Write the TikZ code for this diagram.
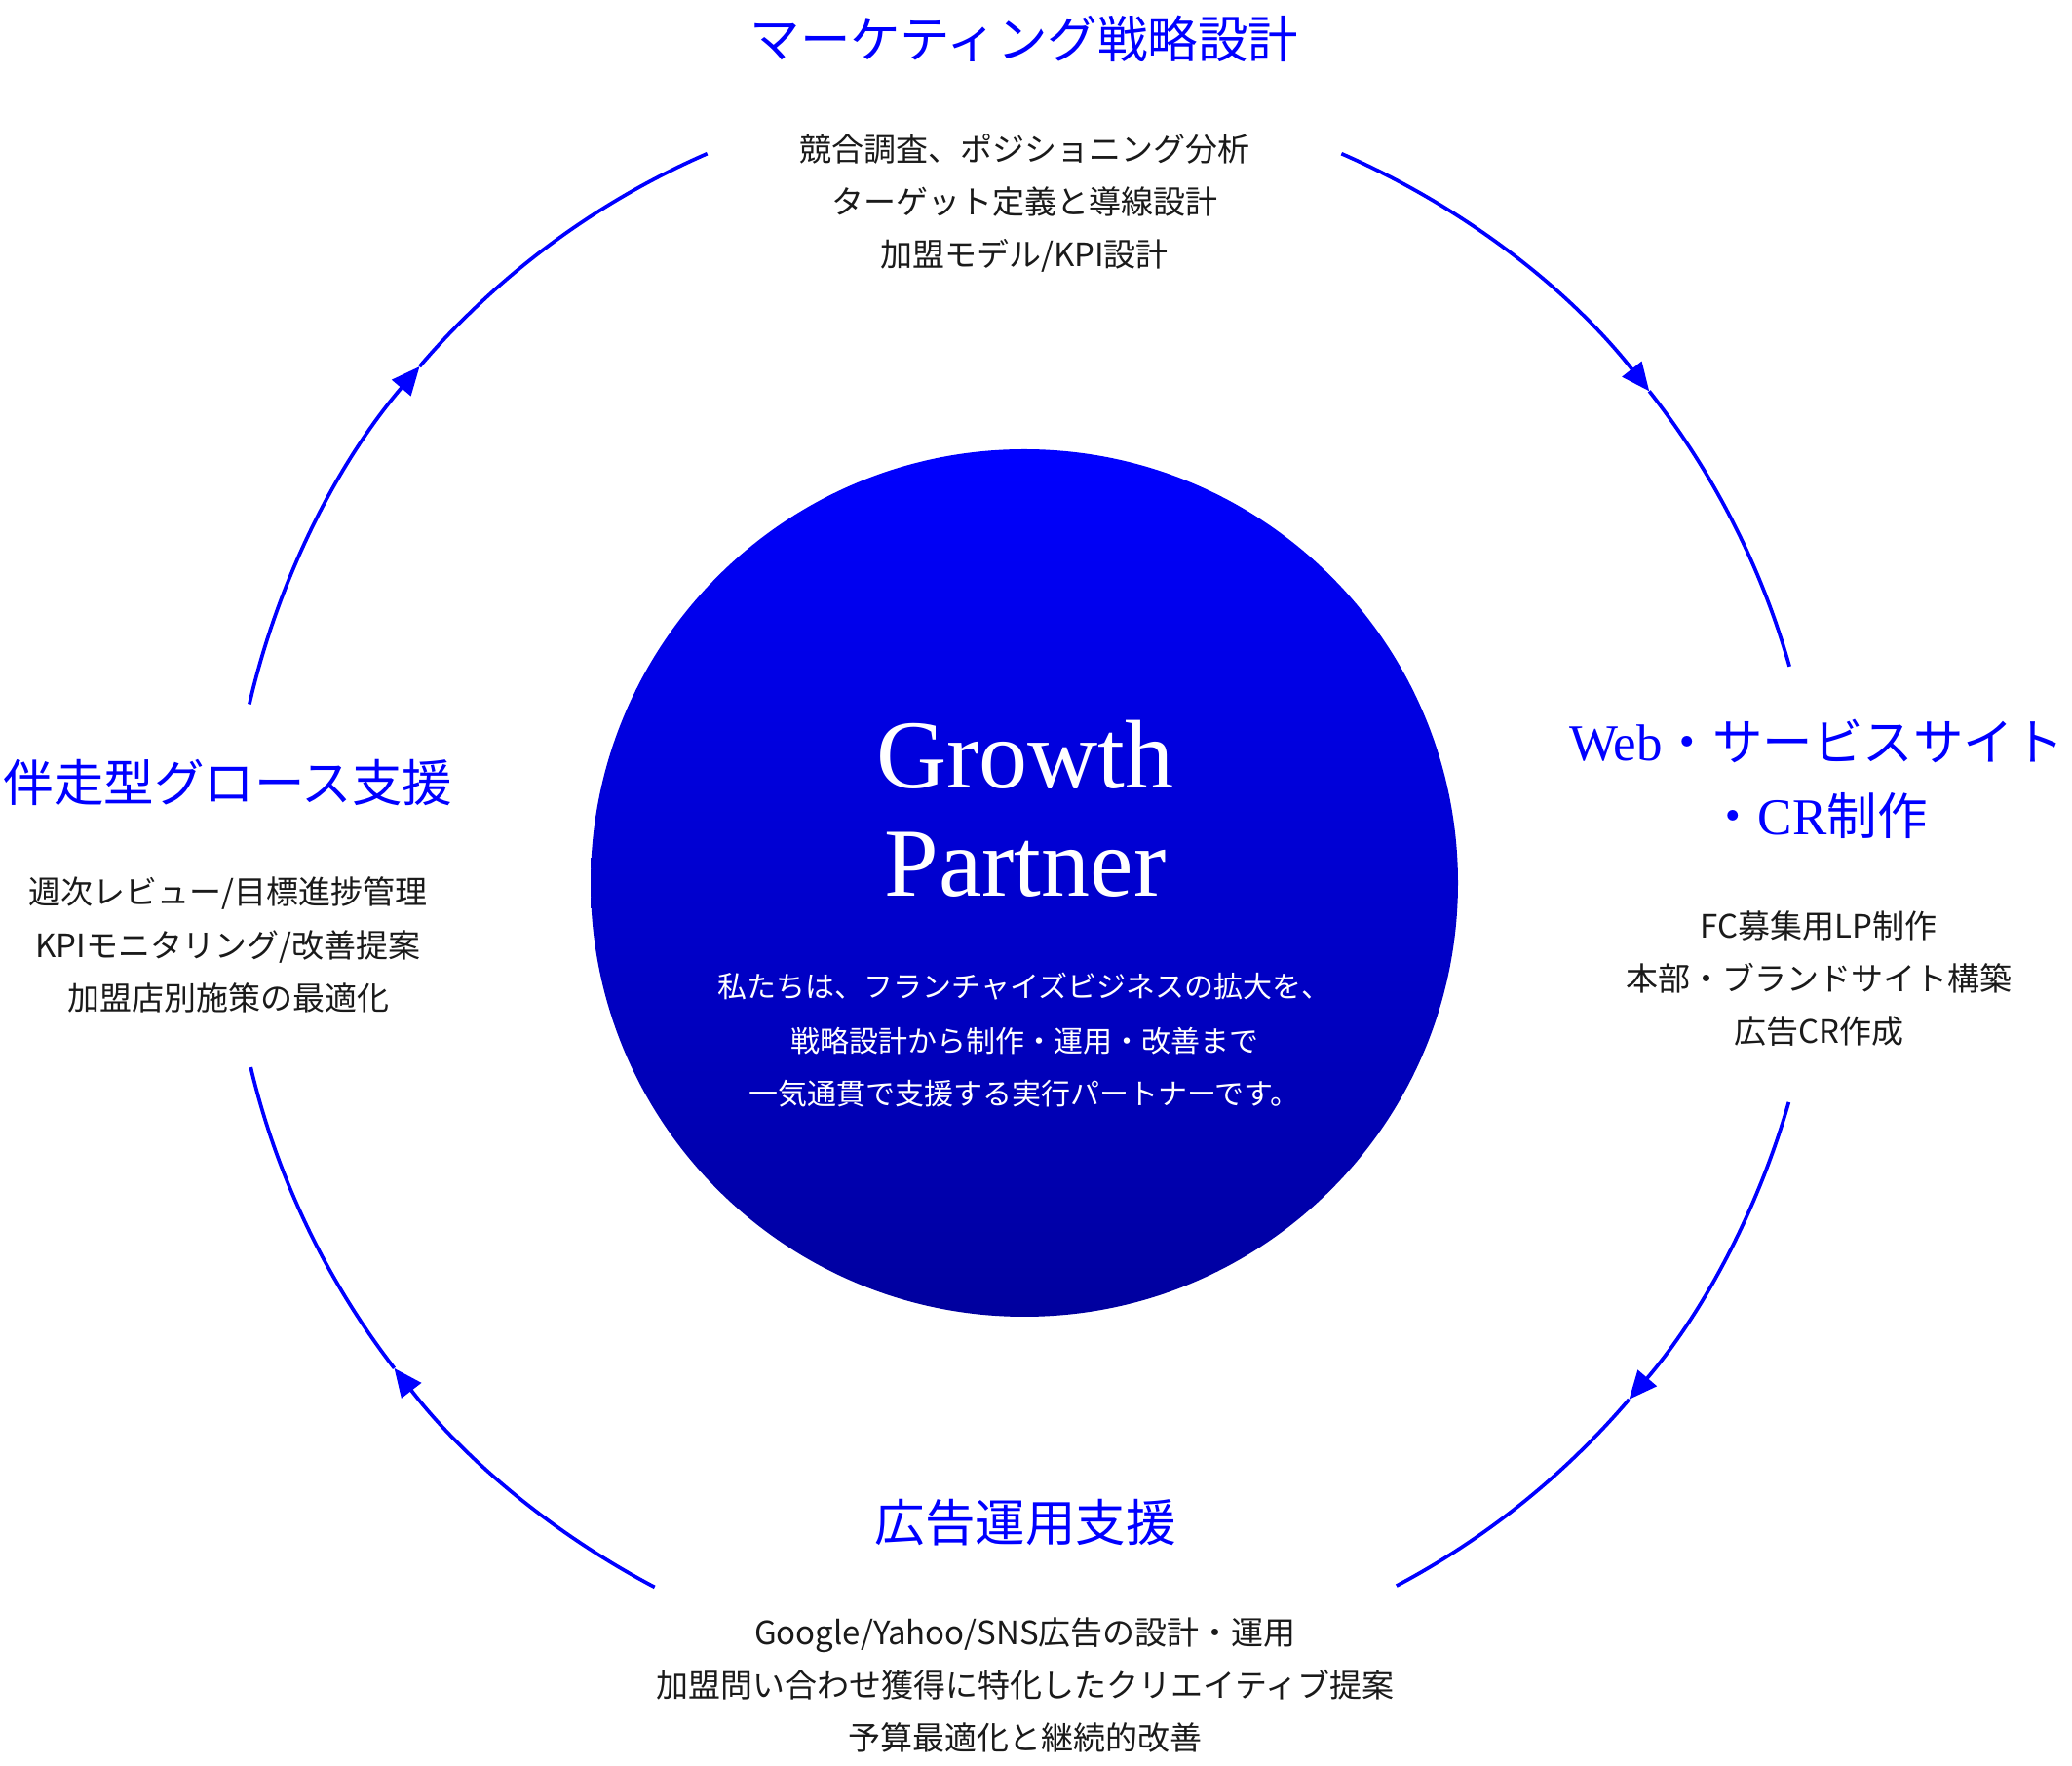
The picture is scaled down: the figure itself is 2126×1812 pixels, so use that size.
\documentclass[tikz,border=0pt]{standalone}
\usepackage{fontspec}
\newfontfamily\jp{Noto Sans CJK JP}
\newfontfamily\lserif{Liberation Serif}
\usetikzlibrary{arrows.meta,calc}
\definecolor{brand}{RGB}{0,0,255}
\definecolor{ink}{RGB}{26,26,26}
\definecolor{deep}{RGB}{0,0,158}
\begin{document}
\begin{tikzpicture}[x=1pt,y=1pt,
  title/.style={anchor=base, text=brand, inner sep=0pt, font=\jp\fontsize{51.5}{60}\selectfont},
  body/.style={anchor=base, text=ink, inner sep=0pt, font=\jp\fontsize{33}{40}\selectfont},
  inner/.style={anchor=base, text=white, inner sep=0pt, font=\jp\fontsize{30}{36}\selectfont},
  hero/.style={anchor=base, text=white, inner sep=0pt, font=\lserif\fontsize{100}{110}\selectfont},
  loop/.style={draw=brand, line width=3.7pt},
  tiphead/.style={-{Triangle[length=29pt,width=25pt]}},
]
\useasboundingbox (0,0) rectangle (2126,1812);
\coordinate (C) at (1051,906);

% central circle
\node[circle, minimum size=890pt, inner sep=0pt, top color=brand, bottom color=deep] (core) at (C) {};
\node[hero] (g1) at (1052,1003) {Growth};
\node[hero] (g2) at (1052,892) {Partner};
\node[inner] (c1) at (1051,788) {私たちは、フランチャイズビジネスの拡大を、};
\node[inner] (c2) at (1051,732) {戦略設計から制作・運用・改善まで};
\node[inner] (c3) at (1051,678) {一気通貫で支援する実行パートナーです。};

% top group
\node[title] (t0) at (1051,1752) {マーケティング戦略設計};
\node[body] (t1) at (1051,1646) {競合調査、ポジショニング分析};
\node[body] (t2) at (1051,1592) {ターゲット定義と導線設計};
\node[body] (t3) at (1051,1538) {加盟モデル/KPI設計};

% right group
\node[title] (r0) at (1864,1031) {{\lserif\fontsize{53}{60}\selectfont Web}・サービスサイト};
\node[title] (r0b) at (1865,955.5) {・{\lserif\fontsize{53}{60}\selectfont CR}制作};
\node[body] (r1) at (1866,849.5) {FC募集用LP制作};
\node[body] (r2) at (1866,795.5) {本部・ブランドサイト構築};
\node[body] (r3) at (1866,741.5) {広告CR作成};

% bottom group
\node[title] (b0) at (1052,230.5) {広告運用支援};
\node[body] (b1) at (1052,124.5) {Google/Yahoo/SNS広告の設計・運用};
\node[body] (b2) at (1052,70.5) {加盟問い合わせ獲得に特化したクリエイティブ提案};
\node[body] (b3) at (1052,16.5) {予算最適化と継続的改善};

% left group
\node[title] (l0) at (234,989.4) {伴走型グロース支援};
\node[body] (l1) at (234,884) {週次レビュー/目標進捗管理};
\node[body] (l2) at (234,829) {KPIモニタリング/改善提案};
\node[body] (l3) at (234,775) {加盟店別施策の最適化};

% cycle arcs (clockwise)
\draw[loop, tiphead] ($(C)+(66.5:816)$) arc[start angle=66.5, end angle=38.2, radius=816];
\draw[loop] ($(C)+(38.2:816)$) arc[start angle=38.2, end angle=15.8, radius=816];

\draw[loop, tiphead] ($(C)+(-16:816)$) arc[start angle=-16, end angle=-40.5, radius=816];
\draw[loop] ($(C)+(-40.5:816)$) arc[start angle=-40.5, end angle=-62.1, radius=816];

\draw[loop, tiphead] ($(C)+(-117.7:816)$) arc[start angle=-117.7, end angle=-142.4, radius=816];
\draw[loop] ($(C)+(-142.4:816)$) arc[start angle=-142.4, end angle=-166.6, radius=816];

\draw[loop, tiphead] ($(C)+(167:816)$) arc[start angle=167, end angle=139.5, radius=816];
\draw[loop] ($(C)+(139.5:816)$) arc[start angle=139.5, end angle=113.5, radius=816];
\end{tikzpicture}
\end{document}
